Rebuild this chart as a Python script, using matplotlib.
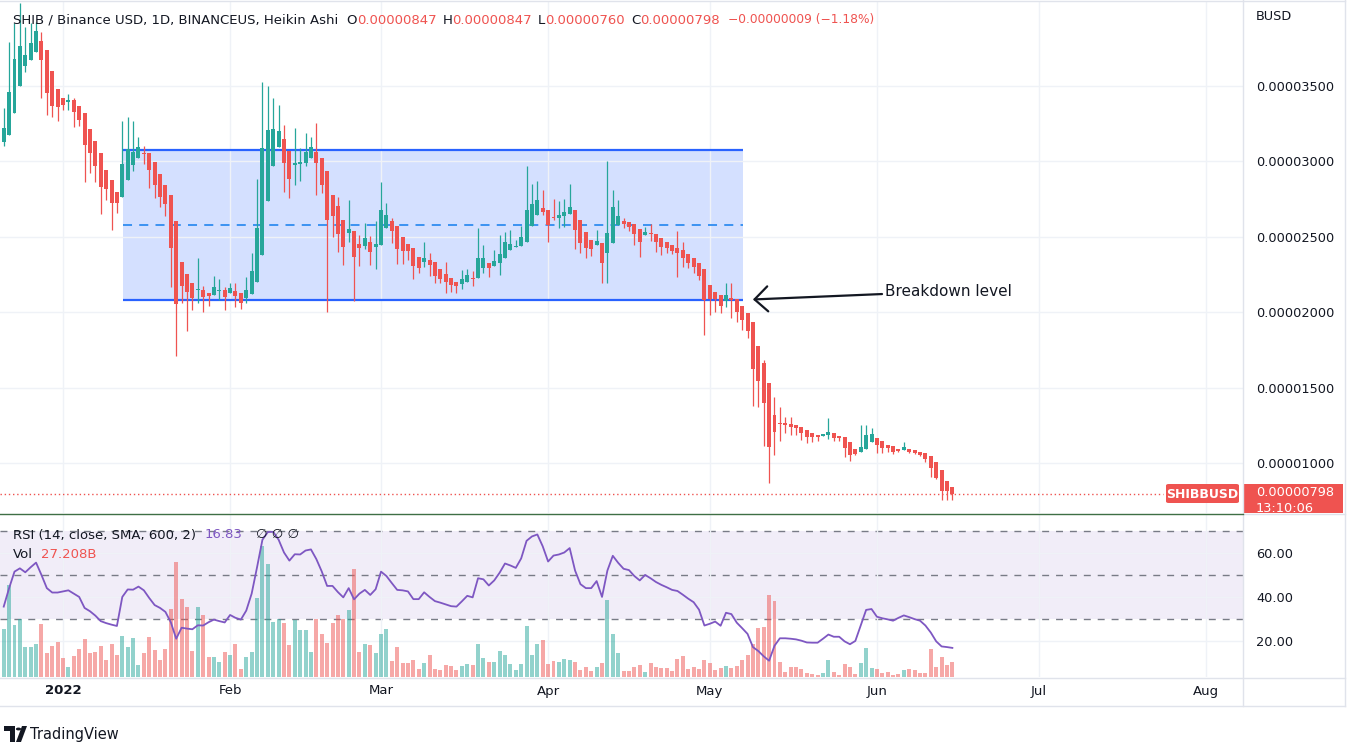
import matplotlib
matplotlib.use("Agg")
import matplotlib.pyplot as plt
import matplotlib.dates as mdates
import numpy as np
import pandas as pd
from matplotlib.patches import Rectangle, Polygon, Circle, FancyBboxPatch
from matplotlib.lines import Line2D

plt.rcParams['font.family'] = ['DejaVu Sans']

W, H = 1358, 755

# ---- data: SHIB/BUSD daily Heikin Ashi, prices in millionths of BUSD ----
dates = pd.date_range("2021-12-21", periods=177, freq="D")

ha_open = [31.29, 31.76, 33.18, 35.00, 36.32, 36.69, 37.25, 37.95, 37.35, 35.96,
           34.80, 34.21, 33.97, 34.04, 33.68, 33.21, 32.15, 31.36, 30.53, 29.44,
           28.77, 28.01, 27.65, 28.74, 29.77, 30.20, 30.56, 30.53, 29.97, 29.20,
           28.44, 27.81, 26.06, 23.31, 22.55, 21.95, 21.46, 21.49, 21.26, 21.16,
           21.42, 21.46, 21.26, 21.42, 21.26, 20.96, 21.23, 21.99, 23.81, 27.35,
           29.70, 30.93, 31.49, 30.70, 29.77, 29.83, 29.90, 30.26, 30.63, 30.26,
           29.37, 27.75, 27.05, 26.13, 25.23, 25.40, 24.54, 24.40, 24.67, 24.34,
           24.44, 25.60, 26.03, 25.73, 24.97, 24.54, 24.30, 23.68, 23.31, 23.48,
           23.31, 22.88, 22.55, 22.29, 22.05, 21.89, 22.05, 22.29, 22.25, 22.95,
           23.28, 23.11, 23.28, 23.58, 24.14, 24.34, 24.37, 24.67, 25.73, 26.46,
           26.95, 26.79, 26.29, 26.27, 26.36, 26.52, 26.76, 26.13, 25.36, 24.80,
           24.50, 24.60, 23.94, 24.60, 25.79, 26.09, 25.99, 25.83, 25.53, 25.10,
           25.20, 25.20, 24.93, 24.64, 24.47, 24.27, 24.11, 23.87, 23.58, 23.28,
           22.85, 21.82, 21.36, 21.13, 20.79, 20.96, 20.89, 20.46, 19.97, 19.37,
           17.81, 16.66, 15.33, 13.21, 12.65, 12.62, 12.62, 12.52, 12.42, 12.22,
           11.99, 11.89, 11.82, 11.89, 11.99, 11.82, 11.75, 11.39, 10.96, 10.79,
           10.96, 11.42, 11.69, 11.46, 11.22, 11.13, 10.96, 10.89, 10.99, 10.89,
           10.79, 10.70, 10.50, 10.10, 9.57, 8.87, 8.47]

ha_high = [33.54, 37.91, 39.17, 40.50, 38.91, 39.17, 39.24, 38.58, 37.35, 35.96,
           34.80, 34.21, 34.47, 34.21, 33.68, 33.21, 32.15, 31.36, 30.53, 29.44,
           28.77, 28.01, 32.68, 32.95, 32.68, 31.62, 31.03, 30.53, 29.97, 29.20,
           28.44, 27.81, 26.06, 23.31, 22.55, 21.95, 23.61, 21.75, 21.26, 22.42,
           22.22, 21.69, 21.95, 21.95, 21.26, 22.35, 23.94, 28.84, 35.27, 35.00,
           34.21, 33.74, 32.42, 30.70, 32.22, 30.89, 31.89, 31.62, 32.55, 30.26,
           29.37, 27.75, 27.65, 26.13, 27.45, 25.40, 25.13, 25.93, 25.07, 26.06,
           28.64, 27.25, 26.26, 25.73, 24.97, 24.54, 24.30, 23.68, 24.67, 23.94,
           23.31, 22.88, 23.34, 22.29, 22.05, 22.81, 22.88, 22.75, 25.60, 24.47,
           23.28, 24.14, 25.13, 25.33, 25.46, 24.80, 25.73, 29.70, 28.51, 28.71,
           28.11, 26.79, 27.52, 27.38, 27.52, 28.51, 26.76, 26.13, 25.36, 24.80,
           25.46, 24.60, 30.03, 28.11, 27.45, 26.26, 25.99, 25.83, 25.53, 25.66,
           25.86, 25.20, 24.93, 24.64, 24.47, 25.40, 24.67, 23.87, 23.58, 23.28,
           22.85, 21.82, 21.36, 21.13, 21.95, 21.95, 20.89, 20.46, 19.97, 19.37,
           17.81, 16.85, 15.33, 14.40, 13.74, 13.08, 13.08, 12.52, 12.42, 12.22,
           11.99, 11.89, 11.95, 13.01, 11.99, 11.82, 11.75, 11.39, 10.96, 12.55,
           12.55, 12.35, 11.69, 11.46, 11.22, 11.13, 10.96, 11.42, 10.99, 10.89,
           10.79, 10.70, 10.50, 10.10, 9.57, 8.87, 8.47]

ha_low = [31.03, 31.76, 33.18, 35.00, 35.93, 36.69, 37.25, 34.21, 33.08, 32.95,
          32.68, 33.41, 33.41, 32.28, 32.35, 28.64, 29.24, 28.64, 26.52, 27.45,
          25.46, 26.59, 27.65, 28.74, 29.37, 30.20, 29.83, 28.25, 27.58, 26.99,
          26.39, 21.69, 17.12, 20.63, 18.77, 20.16, 20.63, 20.03, 20.43, 21.16,
          20.83, 20.16, 21.26, 20.36, 20.23, 20.63, 21.23, 21.99, 23.81, 27.35,
          29.70, 30.93, 27.98, 27.58, 28.44, 28.71, 29.70, 30.26, 27.78, 27.91,
          20.03, 25.00, 24.01, 23.15, 24.67, 20.76, 23.08, 24.20, 23.15, 22.88,
          24.44, 25.60, 24.60, 23.21, 23.21, 23.48, 22.22, 22.62, 23.01, 22.42,
          21.95, 21.95, 21.29, 21.36, 21.29, 21.56, 22.05, 21.75, 22.25, 22.62,
          22.35, 23.11, 22.48, 23.58, 24.14, 24.34, 24.37, 24.67, 25.73, 26.46,
          26.46, 24.67, 26.13, 25.60, 25.66, 26.52, 24.20, 23.94, 23.61, 23.74,
          24.50, 21.95, 21.95, 24.60, 25.79, 25.60, 25.40, 24.47, 23.68, 25.10,
          24.74, 24.01, 23.81, 23.94, 23.87, 22.35, 23.01, 22.95, 22.62, 22.15,
          18.51, 19.83, 20.03, 19.97, 20.36, 19.64, 19.37, 18.84, 18.31, 13.81,
          13.74, 11.16, 8.71, 10.56, 11.49, 12.02, 11.89, 11.89, 11.55, 11.36,
          11.42, 11.49, 11.82, 11.62, 11.49, 11.49, 10.43, 10.17, 10.56, 10.79,
          10.96, 11.42, 10.70, 10.70, 10.76, 10.63, 10.76, 10.89, 10.70, 10.63,
          10.50, 10.10, 9.11, 8.97, 7.58, 7.58, 7.60]

ha_close = [32.22, 34.60, 36.79, 37.65, 37.05, 37.85, 38.64, 36.72, 34.54, 33.68,
            33.61, 33.74, 34.07, 33.28, 32.75, 31.09, 30.56, 29.70, 28.31, 28.18,
            27.25, 27.25, 29.83, 30.83, 30.63, 30.96, 30.50, 29.44, 28.44, 27.65,
            27.18, 24.27, 20.56, 21.75, 21.36, 20.96, 21.56, 21.03, 21.09, 21.69,
            21.49, 21.03, 21.62, 21.09, 20.63, 21.49, 22.75, 25.60, 30.89, 32.09,
            32.15, 32.02, 29.90, 28.84, 29.90, 29.97, 30.63, 30.96, 29.90, 28.44,
            26.13, 26.39, 25.20, 24.34, 25.53, 23.68, 24.27, 24.93, 24.01, 24.54,
            26.79, 26.46, 25.40, 24.20, 24.07, 24.07, 23.08, 22.95, 23.61, 23.15,
            22.42, 22.22, 22.02, 21.82, 21.75, 22.22, 22.48, 22.22, 23.61, 23.61,
            22.95, 23.41, 23.87, 24.67, 24.54, 24.40, 25.00, 26.79, 27.18, 27.45,
            26.66, 25.79, 26.26, 26.46, 26.66, 26.99, 25.46, 24.60, 24.27, 24.20,
            24.74, 23.28, 25.27, 26.99, 26.39, 25.86, 25.66, 25.20, 24.67, 25.33,
            25.17, 24.67, 24.34, 24.27, 24.07, 23.94, 23.61, 23.28, 23.01, 22.42,
            20.83, 20.89, 20.89, 20.43, 21.16, 20.83, 20.03, 19.50, 18.77, 16.26,
            15.46, 14.01, 11.09, 12.09, 12.62, 12.58, 12.42, 12.35, 12.02, 11.75,
            11.75, 11.75, 11.95, 12.09, 11.69, 11.69, 11.03, 10.56, 10.63, 11.09,
            11.89, 11.95, 11.22, 11.03, 11.03, 10.76, 10.83, 11.09, 10.76, 10.70,
            10.56, 10.30, 9.70, 9.04, 8.18, 8.18, 7.98]

# volume in billions of SHIB
volume_b = [86, 166, 94, 104, 54, 54, 59, 95, 43, 56,
            63, 34, 18, 38, 50, 68, 43, 45, 56, 31,
            59, 40, 74, 54, 70, 22, 43, 72, 49, 31,
            50, 122, 207, 140, 126, 47, 126, 112, 36, 36,
            27, 45, 40, 59, 14, 36, 45, 142, 236, 203,
            99, 104, 97, 58, 103, 85, 85, 45, 104, 77,
            61, 97, 112, 104, 121, 194, 45, 59, 58, 43,
            77, 86, 29, 54, 25, 25, 31, 14, 25, 40,
            14, 13, 22, 20, 13, 20, 23, 22, 59, 34,
            27, 27, 47, 40, 23, 13, 23, 92, 40, 59,
            67, 23, 29, 27, 32, 31, 27, 13, 18, 11,
            18, 25, 139, 77, 43, 11, 11, 18, 22, 9,
            25, 18, 16, 16, 11, 32, 38, 14, 18, 14,
            31, 25, 13, 16, 20, 16, 20, 31, 40, 59,
            88, 90, 148, 137, 27, 9, 18, 18, 14, 7,
            5, 4, 7, 31, 9, 4, 23, 18, 5, 25,
            52, 16, 14, 7, 9, 4, 5, 13, 14, 13,
            7, 7, 50, 18, 36, 22, 27.2]

rsi = [35.6, 44.0, 51.5, 53.0, 51.2, 53.5, 55.6, 50.0, 44.0, 42.0,
       42.0, 42.5, 43.0, 41.5, 40.0, 35.0, 33.5, 31.5, 29.0, 28.1,
       27.4, 26.8, 40.0, 43.4, 43.3, 44.7, 43.0, 39.5, 36.3, 35.0,
       33.2, 28.5, 21.0, 26.0, 25.6, 25.3, 27.1, 27.0, 28.5, 29.7,
       29.0, 28.4, 31.8, 30.5, 29.7, 33.8, 41.5, 53.5, 66.0, 69.5,
       69.6, 66.0, 60.2, 56.5, 59.4, 59.3, 61.1, 61.6, 57.2, 51.6,
       45.0, 45.0, 42.2, 39.8, 44.0, 38.9, 41.5, 43.2, 40.9, 43.5,
       51.5, 49.5, 46.3, 43.2, 43.0, 42.5, 39.0, 39.0, 42.1, 40.0,
       38.1, 37.4, 36.6, 35.8, 35.6, 38.0, 40.5, 39.8, 48.5, 48.0,
       45.2, 47.5, 51.0, 55.2, 54.3, 53.2, 57.5, 65.5, 67.5, 68.4,
       63.0, 56.1, 58.8, 59.3, 60.2, 62.2, 52.0, 45.8, 44.0, 44.0,
       47.2, 40.0, 52.0, 58.7, 55.5, 52.8, 52.2, 49.5, 47.5, 50.0,
       48.5, 46.8, 45.5, 44.4, 43.2, 42.7, 41.0, 39.2, 37.6, 34.2,
       27.0, 27.8, 28.8, 26.9, 32.8, 32.2, 28.3, 25.8, 23.2, 17.2,
       15.4, 13.0, 11.0, 17.8, 21.2, 21.2, 21.0, 20.7, 20.1, 19.3,
       19.2, 19.2, 21.0, 22.9, 21.9, 21.9, 19.8, 18.5, 20.0, 27.0,
       34.1, 34.5, 31.0, 30.3, 29.8, 29.2, 30.5, 31.6, 30.8, 29.9,
       29.2, 27.0, 23.8, 19.8, 17.5, 17.2, 16.83]

month_starts = ["2022-01-01", "2022-02-01", "2022-03-01", "2022-04-01",
                "2022-05-01", "2022-06-01", "2022-07-01", "2022-08-01"]
month_labels = ["2022", "Feb", "Mar", "Apr", "May", "Jun", "Jul", "Aug"]
price_ticks = [10, 15, 20, 25, 30, 35]
rsi_ticks = [20, 40, 60]

range_top, range_mid, range_bottom = 30.74, 25.79, 20.83
range_start, range_end = "2022-01-12 04:00", "2022-05-07 02:00"
last_price = 7.98

GREEN = "#26a69a"
RED = "#ef5350"
TEXT = "#131722"
GRID = "#eff2f7"
FRAME = "#e0e3eb"
PURPLE = "#7e57c2"

fig = plt.figure(figsize=(W / 100, H / 100), dpi=100)
fig.patch.set_facecolor("white")


def box(x0, y0, x1, y1):
    return [x0 / W, 1 - y1 / H, (x1 - x0) / W, (y1 - y0) / H]


def fp(x, y):
    return (x / W, 1 - y / H)


xs = mdates.date2num(dates.values)
jan1 = mdates.date2num(pd.Timestamp("2022-01-01"))
xlim = (jan1 - 11.69, jan1 + 218.92)
mpos = mdates.date2num(pd.to_datetime(month_starts).values)

o = np.array(ha_open)
c = np.array(ha_close)
up = c >= o
colors = np.where(up, GREEN, RED)

# ---------------- price pane ----------------
ax = fig.add_axes(box(0, 2, 1243, 513))
ax.set_xlim(*xlim)
ax.set_ylim(6.72, 40.56)
for s in ax.spines.values():
    s.set_visible(False)
ax.set_xticks(mpos)
ax.set_yticks(price_ticks)
ax.grid(True, color=GRID, lw=1, zorder=0)
ax.tick_params(axis='x', length=0, labelbottom=False)
ax.yaxis.tick_right()
ax.set_yticklabels([f"{v * 1e-6:.8f}" for v in price_ticks])
ax.tick_params(axis='y', length=0, pad=9.5, labelsize=9.3, labelcolor=TEXT)

rx0 = mdates.date2num(pd.Timestamp(range_start))
rx1 = mdates.date2num(pd.Timestamp(range_end))
ax.add_patch(Rectangle((rx0, range_bottom), rx1 - rx0, range_top - range_bottom,
                       facecolor="#d4e0ff", edgecolor="none", zorder=1))
ax.hlines([range_top, range_bottom], rx0, rx1, colors="#2962ff", lw=1.6, zorder=2)
ax.hlines(range_mid, rx0, rx1, colors="#2f8cf0", lw=1.3, linestyles=(0, (5, 4)), zorder=2)

ax.vlines(xs, ha_low, ha_high, colors=colors, lw=0.9, zorder=3)
ax.bar(xs, np.maximum(np.abs(c - o), 0.07), bottom=np.minimum(o, c), width=0.74,
       color=colors, lw=0, zorder=4)

ax.axhline(last_price, xmax=1163 / 1243, color=RED, lw=1, ls=(0, (1, 2)), zorder=2)

head = (jan1 + 128.0, 20.86)
tail = (jan1 + 151.95, 21.22)
ax.annotate("", xy=head, xytext=tail,
            arrowprops=dict(arrowstyle="->,head_length=0.95,head_width=0.9",
                            lw=1.6, color=TEXT, shrinkA=0, shrinkB=0, mutation_scale=10),
            zorder=6)
ax.text(jan1 + 152.5, 21.39, "Breakdown level", fontsize=11, color=TEXT,
        va="center", ha="left", zorder=6)

# ---------------- RSI + volume pane ----------------
ax_r = fig.add_axes(box(0, 514, 1243, 677))
ax_v = ax_r.twinx()
ax_l = ax_r.twinx()

ax_r.set_xlim(*xlim)
ax_r.set_ylim(3.6, 77.7)
for a in (ax_r, ax_v, ax_l):
    for s in a.spines.values():
        s.set_visible(False)
ax_r.axhspan(30, 70, color=PURPLE, alpha=0.1, lw=0, zorder=0)
ax_r.set_xticks(mpos)
ax_r.set_xticklabels(month_labels)
ax_r.get_xticklabels()[0].set_fontweight("bold")
ax_r.tick_params(axis='x', length=0, pad=5.4, labelsize=9.5, labelcolor=TEXT)
ax_r.set_yticks(rsi_ticks)
ax_r.set_yticklabels([f"{v:.2f}" for v in rsi_ticks])
ax_r.yaxis.tick_right()
ax_r.tick_params(axis='y', left=False, labelleft=False, right=True, labelright=True,
                 length=0, pad=9.5, labelsize=9.3, labelcolor=TEXT)
ax_r.grid(True, color=GRID, lw=1, zorder=0)
for lvl in (70, 50, 30):
    ax_r.axhline(lvl, color="#787b86", lw=1, ls=(0, (5, 5)), zorder=1)

ax_v.set_ylim(0, 293)
ax_v.set_xlim(*xlim)
ax_v.set_yticks([])
ax_v.bar(xs, volume_b, width=0.74, color=colors, alpha=0.5, lw=0)

ax_l.set_ylim(3.6, 77.7)
ax_l.set_xlim(*xlim)
ax_l.set_yticks([])
ax_l.plot(xs, rsi, color=PURPLE, lw=1.3)

# ---------------- frame lines ----------------
for (x0, y0, x1, y1, col) in [(0, 1, 1345, 1, FRAME), (1345, 0, 1345, 706, FRAME),
                              (0, 706, 1345, 706, FRAME), (1243, 0, 1243, 706, FRAME),
                              (0, 678, 1345, 678, FRAME), (1243, 513.5, 1345, 513.5, FRAME),
                              (0, 513.5, 1243, 513.5, "#3f6f45")]:
    fig.add_artist(Line2D([x0 / W, x1 / W], [1 - y0 / H, 1 - y1 / H], color=col, lw=1))

fig.text(*fp(1256, 17), "BUSD", fontsize=9.3, color=TEXT, va="center", ha="left")

# last price labels
fig.add_artist(FancyBboxPatch(fp(1166, 503), 73 / W, 19 / H,
                              boxstyle="round,pad=0,rounding_size=0.002",
                              facecolor=RED, edgecolor="none"))
fig.text(*fp(1202, 494), "SHIBBUSD", fontsize=9, fontweight="bold", color="white",
         va="center", ha="center")
ax_p = fig.add_axes(box(1243, 484, 1343, 513))
ax_p.set_facecolor(RED)
ax_p.set_xticks([])
ax_p.set_yticks([])
for s in ax_p.spines.values():
    s.set_visible(False)
ax_p.text(0.13, 0.69, f"{last_price * 1e-6:.8f}", transform=ax_p.transAxes,
          fontsize=9.3, color="white", va="center", ha="left")
ax_p.text(0.13, 0.17, "13:10:06", transform=ax_p.transAxes, fontsize=9.3,
          color="white", va="center", ha="left", clip_on=True)

# ---------------- legend texts ----------------
renderer = fig.canvas.get_renderer()


def text_run(pieces, x, y, size):
    for s, col, gap, fs in pieces:
        t = fig.text(*fp(x, y), s, fontsize=fs or size, color=col, va="center", ha="left")
        x += t.get_window_extent(renderer).width + gap


text_run([("SHIB / Binance USD, 1D, BINANCEUS, Heikin Ashi", TEXT, 8, None),
          ("O", TEXT, 0, None), ("0.00000847", RED, 6, None),
          ("H", TEXT, 0, None), ("0.00000847", RED, 6, None),
          ("L", TEXT, 0, None), ("0.00000760", RED, 6, None),
          ("C", TEXT, 0, None), ("0.00000798", RED, 8, None),
          ("\u22120.00000009 (\u22121.18%)", RED, 0, 8.8)], 13, 20, 9.5)
text_run([("RSI (14, close, SMA, 600, 2)", TEXT, 9, None), ("16.83", PURPLE, 13, None),
          ("\u2205 \u2205 \u2205", TEXT, 0, None)], 13, 535, 9.5)
text_run([("Vol", TEXT, 8, None), ("27.208B", RED, 0, None)], 13, 555, 9.5)

# TradingView logo
fig.add_artist(Polygon([fp(4, 726), fp(15, 726), fp(15, 742), fp(10, 742), fp(10, 731), fp(4, 731)],
                       closed=True, facecolor=TEXT, edgecolor="none"))
fig.add_artist(Circle(fp(18.5, 729), 2.6 / W, facecolor=TEXT, edgecolor="none"))
fig.add_artist(Polygon([fp(22, 726), fp(27, 726), fp(21, 742), fp(16, 742)],
                       closed=True, facecolor=TEXT, edgecolor="none"))
fig.text(*fp(30, 734), "TradingView", fontsize=10.5, color=TEXT, va="center", ha="left")

fig.savefig("out.png", dpi=100, facecolor="white")
